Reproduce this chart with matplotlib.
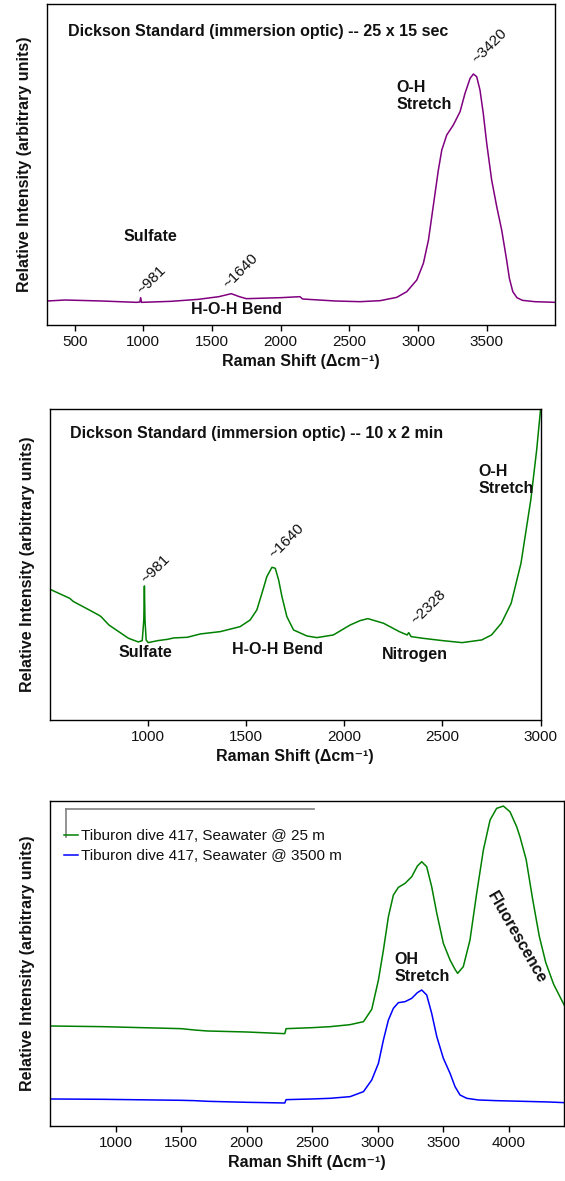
import matplotlib
matplotlib.use("Agg")
import matplotlib.pyplot as plt
from matplotlib.lines import Line2D

plt.rcParams['font.family'] = ['Liberation Sans', 'DejaVu Sans']
plt.rcParams['lines.solid_joinstyle'] = 'round'

# ---------------- data ----------------
# Panel 1: Dickson standard, 25 x 15 sec
p1_shift = [300, 430, 700, 950, 975, 981, 987, 1200, 1400, 1550, 1640, 1700, 1750,
            2000, 2140, 2160, 2400, 2578, 2724, 2845, 2918, 2991, 3039, 3076, 3100,
            3124, 3148, 3173, 3209, 3257, 3306, 3342, 3379, 3403, 3427, 3451, 3475,
            3500, 3536, 3573, 3609, 3645, 3665, 3690, 3720, 3760, 3850, 4000]
p1_int = [72, 75, 72, 68, 69, 82, 68, 71, 77, 85, 94, 85, 79,
          82, 85, 78, 72, 70, 73, 83, 100, 135, 185, 255, 325,
          395, 465, 525, 570, 600, 640, 695, 740, 753, 745, 705, 635,
          545, 435, 355, 285, 195, 140, 100, 82, 74, 70, 68]

# Panel 2: Dickson standard, 10 x 2 min
p2_shift = [500, 600, 620, 700, 750, 760, 800, 850, 900, 950, 970, 978, 981, 984, 990,
            1000, 1050, 1100, 1130, 1200, 1266, 1368, 1469, 1520, 1554, 1580, 1605,
            1631, 1648, 1665, 1682, 1707, 1741, 1809, 1860, 1944, 2030, 2080, 2120,
            2200, 2280, 2320, 2328, 2340, 2400, 2500, 2600, 2700, 2750, 2800, 2850,
            2900, 2950, 2980, 3000]
p2_int = [392, 365, 355, 330, 314, 310, 285, 265, 245, 234, 238, 300, 402, 300, 240,
          232, 238, 242, 246, 248, 258, 265, 280, 300, 330, 380, 430,
          458, 455, 420, 370, 310, 270, 252, 247, 255, 285, 298, 304,
          290, 265, 255, 262, 250, 245, 238, 232, 240, 255, 290, 350,
          470, 660, 810, 933]

# Panel 3: Tiburon dive 417 seawater spectra
p3_shift = [500, 900, 1500, 1600, 1700, 2000, 2290, 2300, 2500, 2636, 2788, 2890,
            2953, 3004, 3042, 3080, 3118, 3156, 3207, 3258, 3301, 3334, 3372, 3410,
            3449, 3499, 3550, 3588, 3626, 3677, 3766, 3900, 4100, 4300, 4420]
p3_25m = [300, 298, 292, 288, 285, 282, 277, 292, 295, 298, 304, 313,
          350, 438, 528, 628, 693, 716, 728, 748, 780, 793, 778, 718,
          638, 548, 498, 470, 458, 466, 680, 940, 870, 480, 363]
p3_3500m = [81, 80, 77, 76, 74, 71, 69, 79, 81, 83, 88, 103,
            138, 188, 258, 318, 353, 370, 373, 383, 400, 408, 393, 338,
            268, 203, 158, 118, 93, 83, 78, 76, 74, 72, 70]

# extra detail for the fluorescence band of the 25 m spectrum
p3_fl_shift = [3608, 3651, 3702, 3753, 3804, 3855, 3905, 3956, 4007, 4058, 4083,
               4130, 4180, 4230, 4280, 4340, 4420]
p3_fl_int = [458, 478, 558, 698, 828, 918, 953, 960, 943, 898, 868,
             800, 680, 570, 490, 425, 363]

label_25m = "Tiburon dive 417, Seawater @ 25 m"
label_3500m = "Tiburon dive 417, Seawater @ 3500 m"

xlabel = "Raman Shift (\u0394cm\u207b\u00b9)"
ylabel = "Relative Intensity (arbitrary units)"

# merge the 25 m spectrum with its fluorescence detail (sorted by shift)
g_pts = sorted([(x, y) for x, y in zip(p3_shift, p3_25m) if x < 3600] +
               list(zip(p3_fl_shift, p3_fl_int)))
g_x = [p[0] for p in g_pts]
g_y = [p[1] for p in g_pts]

# ---------------- figure ----------------
fig = plt.figure(figsize=(5.65, 11.81), dpi=100)

ax1 = fig.add_axes([0.0834, 0.7248, 0.8996, 0.2718])
ax2 = fig.add_axes([0.0885, 0.3904, 0.8683, 0.2633])
ax3 = fig.add_axes([0.0885, 0.0466, 0.9100, 0.2754])

TXT = '#111111'
BFS = 11.5   # bold annotation size
TFS = 11     # tick / small text size


def style(ax, xlim, ylim, ticks):
    ax.set_xlim(*xlim)
    ax.set_ylim(*ylim)
    ax.set_xticks(ticks)
    ax.set_yticks([])
    ax.tick_params(axis='x', direction='out', length=4, width=1, labelsize=TFS,
                   colors='black', labelcolor=TXT, pad=3)
    for s in ax.spines.values():
        s.set_linewidth(1.0)
        s.set_color('black')
    ax.set_xlabel(xlabel, fontsize=11.5, fontweight='bold', color=TXT, labelpad=4)
    ax.set_ylabel(ylabel, fontsize=11.5, fontweight='bold', color=TXT, labelpad=11)


# ---- panel 1
ax1.plot(p1_shift, p1_int, color='#800080', lw=1.1)
style(ax1, (300, 4000), (0, 963), [500, 1000, 1500, 2000, 2500, 3000, 3500])
ax1.text(453, 882, "Dickson Standard (immersion optic) -- 25 x 15 sec", fontsize=BFS,
         fontweight='bold', color=TXT, ha='left', va='center')
ax1.text(3525, 837, "~3420", fontsize=TFS, rotation=45, color=TXT, ha='center', va='center')
ax1.text(2840, 687, "O-H\nStretch", fontsize=BFS, fontweight='bold', color=TXT,
         ha='left', va='center', linespacing=1.15)
ax1.text(853, 267, "Sulfate", fontsize=BFS, fontweight='bold', color=TXT, ha='left', va='center')
ax1.text(1063, 135, "~981", fontsize=TFS, rotation=45, color=TXT, ha='center', va='center')
ax1.text(1707, 162, "~1640", fontsize=TFS, rotation=45, color=TXT, ha='center', va='center')
ax1.text(1351, 48, "H-O-H Bend", fontsize=BFS, fontweight='bold', color=TXT, ha='left', va='center')

# ---- panel 2
ax2.plot(p2_shift, p2_int, color='#008000', lw=1.1)
style(ax2, (500, 3000), (0, 933), [1000, 1500, 2000, 2500, 3000])
ax2.text(603, 858, "Dickson Standard (immersion optic) -- 10 x 2 min", fontsize=BFS,
         fontweight='bold', color=TXT, ha='left', va='center')
ax2.text(2682, 720, "O-H\nStretch", fontsize=BFS, fontweight='bold', color=TXT,
         ha='left', va='center', linespacing=1.15)
ax2.text(1039, 453, "~981", fontsize=TFS, rotation=45, color=TXT, ha='center', va='center')
ax2.text(1708, 537, "~1640", fontsize=TFS, rotation=45, color=TXT, ha='center', va='center')
ax2.text(2428, 339, "~2328", fontsize=TFS, rotation=45, color=TXT, ha='center', va='center')
ax2.text(851, 201, "Sulfate", fontsize=BFS, fontweight='bold', color=TXT, ha='left', va='center')
ax2.text(1426, 210, "H-O-H Bend", fontsize=BFS, fontweight='bold', color=TXT, ha='left', va='center')
ax2.text(2190, 195, "Nitrogen", fontsize=BFS, fontweight='bold', color=TXT, ha='left', va='center')

# ---- panel 3
l25, = ax3.plot(g_x, g_y, color='#008000', lw=1.1, label=label_25m)
l35, = ax3.plot(p3_shift, p3_3500m, color='#0000ff', lw=1.1, label=label_3500m)
style(ax3, (500, 4420), (0, 976), [1000, 1500, 2000, 2500, 3000, 3500, 4000])
ax3.text(3127, 474, "OH\nStretch", fontsize=BFS, fontweight='bold', color=TXT,
         ha='left', va='center', linespacing=1.15)
ax3.text(4055, 567, "Fluorescence", fontsize=BFS, fontweight='bold', color=TXT,
         rotation=-60, ha='center', va='center', rotation_mode='anchor')

leg = ax3.legend(handles=[l25, l35], loc='upper left', bbox_to_anchor=(0.027, 0.912),
                 frameon=False, fontsize=11, handlelength=0.95, handletextpad=0.15,
                 labelspacing=0.4, borderaxespad=0, borderpad=0)
for t in leg.get_texts():
    t.set_color(TXT)
# grey frame fragment above the legend
ax3.add_line(Line2D([0.0317, 0.5134], [0.9745, 0.9745], transform=ax3.transAxes,
                    color='#808080', lw=1.2, clip_on=False))
ax3.add_line(Line2D([0.0317, 0.0317], [0.9745, 0.8884], transform=ax3.transAxes,
                    color='#808080', lw=1.2, clip_on=False))

fig.savefig("out.png", dpi=100)
